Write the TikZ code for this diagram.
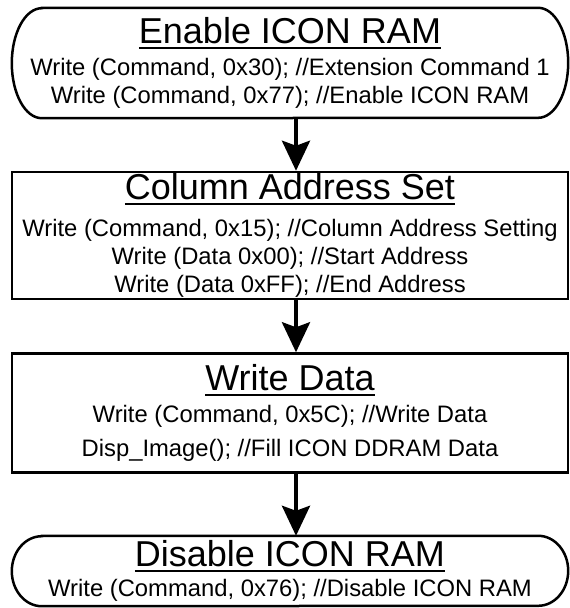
\documentclass[tikz,border=0pt]{standalone}
\usepackage{fontspec}
\setmainfont{Liberation Sans}
\usetikzlibrary{positioning,arrows.meta,calc}
\newcommand{\bodyfont}{\fontsize{23.8}{28}\selectfont}
\newcommand{\ttl}[1]{{\fontsize{36}{40}\selectfont\setbox0\hbox{#1}\rlap{\rule[-5pt]{\wd0}{2pt}}\box0}}
\tikzset{
  stepbox/.style={draw, line width=2.5pt, minimum width=556pt, inner sep=0pt,
                  align=center, font=\bodyfont},
  termtext/.style={minimum width=556pt, inner sep=0pt, align=center, font=\bodyfont},
  termline/.style={line width=2.5pt},
  flow/.style={-{Stealth[length=30pt,width=28pt,inset=5pt]}, line width=4pt}
}

\begin{document}
\begin{tikzpicture}[x=1pt,y=-1pt]
  \useasboundingbox (0,0) rectangle (570,608);
  % start
  \node[termtext, minimum height=110pt] (enable) at (290,63)
    {\ttl{Enable ICON RAM}\\[4pt]
     Write (Command, 0x30); //Extension Command 1\\
     Write (Command, 0x77); //Enable ICON RAM};
  \draw[termline] ($(enable.north west)+(30,0)$) -- ($(enable.north east)+(-30,0)$)
    arc[start angle=90, end angle=-90, x radius=30pt, y radius=55pt]
    -- ($(enable.south west)+(30,0)$)
    arc[start angle=270, end angle=90, x radius=30pt, y radius=55pt] -- cycle;
  % steps
  \node[stepbox, minimum height=127pt] (colset) at (290,235.5)
    {\ttl{Column Address Set}\\[9pt]
     Write (Command, 0x15); //Column Address Setting\\
     Write (Data 0x00); //Start Address\\
     Write (Data 0xFF); //End Address};
  \node[stepbox, minimum height=119pt] (wrdata) at (290,413)
    {\ttl{Write Data}\\[4pt]
     Write (Command, 0x5C); //Write Data\\[6pt]
     Disp\_Image(); //Fill ICON DDRAM Data};
  % end
  \node[termtext, minimum height=70pt] (disable) at (290,571)
    {\ttl{Disable ICON RAM}\\[2pt]
     Write (Command, 0x76); //Disable ICON RAM};
  \draw[termline] ($(disable.north west)+(30,0)$) -- ($(disable.north east)+(-30,0)$)
    arc[start angle=90, end angle=-90, x radius=30pt, y radius=35pt]
    -- ($(disable.south west)+(30,0)$)
    arc[start angle=270, end angle=90, x radius=30pt, y radius=35pt] -- cycle;
  % arrows
  \draw[flow] ([xshift=6pt]enable.south) -- ([xshift=6pt]colset.north);
  \draw[flow] ([xshift=6pt]colset.south) -- ([xshift=6pt]wrdata.north);
  \draw[flow] ([xshift=6pt]wrdata.south) -- ([xshift=6pt]disable.north);
\end{tikzpicture}
\end{document}
